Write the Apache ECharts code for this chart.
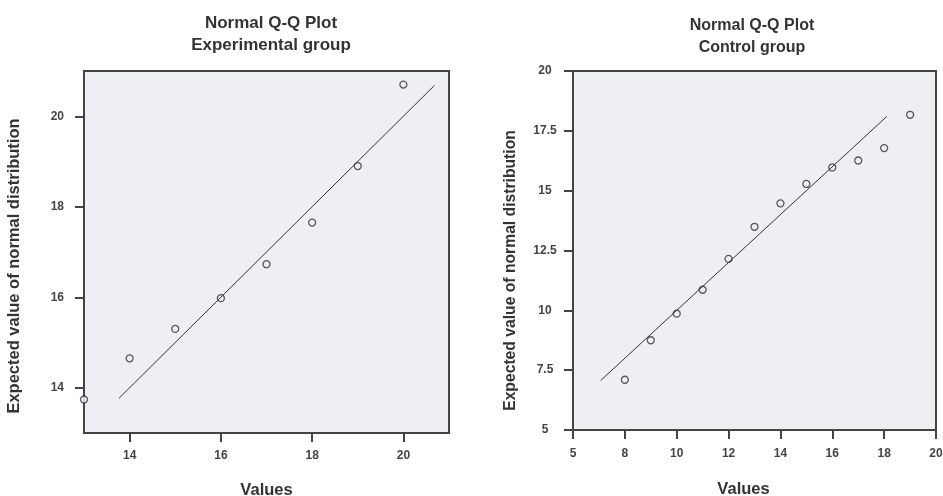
<!DOCTYPE html>
<html>
<head>
<meta charset="utf-8">
<script src="https://cdn.jsdelivr.net/npm/echarts@6/dist/echarts.min.js"></script>
<style>
  html, body { margin: 0; padding: 0; background: #fff; }
  #chart { width: 943px; height: 496px; }
</style>
</head>
<body>
<div id="chart"></div>
<script>
// experimental group
const expValues = [13, 14, 15, 16, 17, 18, 19, 20];
const expExpected = [13.74, 14.65, 15.30, 15.98, 16.73, 17.65, 18.90, 20.70];
const expLineEnds = [13.77, 20.68];
const expTicks = [14, 16, 18, 20];

// control group
const ctrlValues = [8, 9, 10, 11, 12, 13, 14, 15, 16, 17, 18, 19];
const ctrlExpected = [7.1, 8.75, 9.86, 10.86, 12.15, 13.49, 14.47, 15.28, 15.97, 16.26, 16.78, 18.17];
const ctrlLineEnds = [7.07, 18.1];
const ctrlXTicks = [6, 8, 10, 12, 14, 16, 18, 20];
const ctrlXTickLabels = ['5', '8', '10', '12', '14', '16', '18', '20'];

const FONT = 'Liberation Sans, Arial, sans-serif';
const INK = '#333';
const PANEL = '#eeeff2';

function pairs(xs, ys) {
  return xs.map((x, i) => [x, ys[i]]);
}

const labelStyle = { fontFamily: FONT, fontWeight: 'bold', fontSize: 12, color: '#444' };
const nameStyle = { fontFamily: FONT, fontWeight: 'bold', fontSize: 16.5, color: INK };
const lineStyle = { color: '#444', width: 2 };
const dotStyle = { color: PANEL, borderColor: INK, borderWidth: 1.3 };

const chart = echarts.init(document.getElementById('chart'));
chart.setOption({
  backgroundColor: '#fff',
  animation: false,
  title: [
    {
      text: 'Normal Q-Q Plot\nExperimental group', left: 271, top: 12, textAlign: 'center', padding: 0,
      textStyle: { fontFamily: FONT, fontWeight: 'bold', fontSize: 17, color: INK, lineHeight: 22 }
    },
    {
      text: 'Normal Q-Q Plot\nControl group', left: 752, top: 15, textAlign: 'center', padding: 0,
      textStyle: { fontFamily: FONT, fontWeight: 'bold', fontSize: 16, color: INK, lineHeight: 22 }
    }
  ],
  grid: [
    {
      left: 84, top: 71, width: 365, height: 362, outerBoundsMode: 'none',
      show: true, backgroundColor: PANEL, borderColor: '#444', borderWidth: 2
    },
    {
      left: 573, top: 71, width: 363, height: 359, outerBoundsMode: 'none',
      show: true, backgroundColor: PANEL, borderColor: '#444', borderWidth: 2
    }
  ],
  xAxis: [
    {
      gridIndex: 0, type: 'value', min: 13, max: 21,
      name: 'Values', nameLocation: 'middle', nameGap: 49, nameTextStyle: nameStyle,
      splitLine: { show: false },
      axisLine: { lineStyle: lineStyle },
      axisTick: { length: 9, lineStyle: lineStyle, customValues: expTicks },
      axisLabel: Object.assign({ margin: 17, customValues: expTicks }, labelStyle)
    },
    {
      gridIndex: 1, type: 'value', min: 6, max: 20, interval: 2,
      name: 'Values', nameLocation: 'middle', nameGap: 51, nameTextStyle: Object.assign({ padding: [0, 22, 0, 0] }, nameStyle),
      splitLine: { show: false },
      axisLine: { lineStyle: lineStyle },
      axisTick: { length: 9, lineStyle: lineStyle },
      axisLabel: Object.assign({
        margin: 18,
        formatter: v => ctrlXTickLabels[ctrlXTicks.indexOf(v)]
      }, labelStyle)
    }
  ],
  yAxis: [
    {
      gridIndex: 0, type: 'value', min: 13, max: 21,
      name: 'Expected value of normal distribution', nameLocation: 'middle', nameGap: 61,
      nameTextStyle: Object.assign({ padding: [0, 28, 0, 0] }, nameStyle),
      splitLine: { show: false },
      axisLine: { lineStyle: lineStyle },
      axisTick: { length: 9, lineStyle: lineStyle, customValues: expTicks },
      axisLabel: Object.assign({ margin: 20, customValues: expTicks }, labelStyle)
    },
    {
      gridIndex: 1, type: 'value', min: 5, max: 20, interval: 2.5,
      name: 'Expected value of normal distribution', nameLocation: 'middle', nameGap: 54,
      nameTextStyle: Object.assign({}, nameStyle, { fontSize: 15.7, padding: [0, 40, 0, 0] }),
      splitLine: { show: false },
      axisLine: { lineStyle: lineStyle },
      axisTick: { length: 9, lineStyle: lineStyle },
      axisLabel: Object.assign({ margin: 28, align: 'center' }, labelStyle)
    }
  ],
  series: [
    {
      type: 'line', xAxisIndex: 0, yAxisIndex: 0,
      data: pairs(expLineEnds, expLineEnds),
      symbol: 'none', lineStyle: { color: INK, width: 1 }, silent: true
    },
    {
      type: 'scatter', xAxisIndex: 0, yAxisIndex: 0,
      data: pairs(expValues, expExpected),
      symbol: 'circle', symbolSize: 7, clip: true, itemStyle: dotStyle
    },
    {
      type: 'line', xAxisIndex: 1, yAxisIndex: 1,
      data: pairs(ctrlLineEnds, ctrlLineEnds),
      symbol: 'none', lineStyle: { color: INK, width: 1 }, silent: true
    },
    {
      type: 'scatter', xAxisIndex: 1, yAxisIndex: 1,
      data: pairs(ctrlValues, ctrlExpected),
      symbol: 'circle', symbolSize: 7, clip: true, itemStyle: dotStyle
    }
  ]
});
</script>
</body>
</html>
